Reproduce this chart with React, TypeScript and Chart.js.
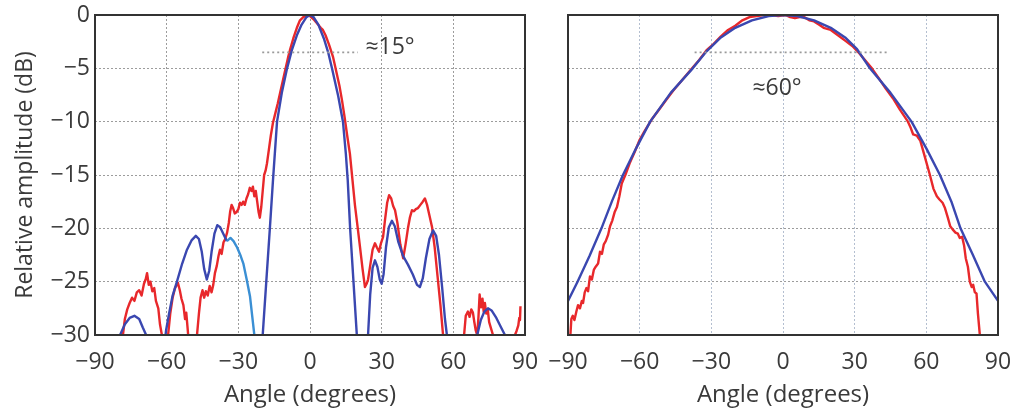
import React, { useEffect, useRef } from "react";
import { Chart, registerables } from "chart.js";
Chart.register(...registerables);

// ---------- data ----------
const xTickValues = [-90, -60, -30, 0, 30, 60, 90];
const yTickValues = [0, -5, -10, -15, -20, -25, -30];

// Left panel: simulated pattern (dark blue); null = gap below -30 dB
const leftSimAngles = [
  -81, -79.5, -77.5, -75.5, -73.5, -71.5, -70, -68.6, -67.5, -64,
  -61, -60.2, -59, -57.5, -55.7, -53.5, -51.5, -49.5, -47.8, -46.5, -45.3, -44.3, -43.2, -42.2, -41.2, -40, -38.8, -37.6, -36.3, -34.8, -28,
  -20.2, -19.8, -18.3, -16.8, -15.5, -13.8, -11.8, -9.6, -7.6, -5.5, -3.5, -1.5, 0, 1.5, 3.5, 5.8, 7.6, 9.2, 11.8, 13.8, 15, 15.8, 16.8, 18.2, 19.6, 20, 22,
  23.8, 24.3, 25.2, 26.2, 27.2, 28.2, 29.2, 30, 30.8, 31.8, 33, 34.3, 35.5, 37, 39, 41, 43, 44.8, 46, 47.2, 48.5, 50, 51.5, 52.8, 54, 55.3, 56.5, 57.3, 57.8, 64,
  69.5, 70, 71.5, 73, 74.5, 76, 78, 80, 81.6, 82.5,
];
const leftSimDb = [
  -31, -30, -29, -28.4, -28.2, -28.5, -29.3, -30, -31, null,
  -31, -29.5, -28, -26.3, -25, -23.3, -22, -21.1, -20.7, -21, -22.2, -23.8, -24.8, -24, -22.2, -20.5, -19.7, -19.9, -20.5, -21.2, null,
  -31, -30, -25, -20, -15.5, -10, -7.3, -5, -3.3, -1.9, -0.9, -0.2, 0, -0.2, -0.9, -2.2, -3.5, -5, -7.6, -10, -13, -15.5, -20, -25, -30, -31, null,
  -31, -30, -26.2, -23.7, -23, -23.6, -24.8, -25.2, -24.3, -21.8, -19.9, -19.3, -19.8, -21.3, -22.6, -23.4, -24.3, -25.3, -25.5, -24.7, -22.8, -21, -20.2, -20.7, -22.5, -25.5, -28.5, -30, -31, null,
  -31, -30, -28.6, -27.8, -27.5, -27.7, -28.4, -29.3, -30, -31,
];

// Left panel: light-blue segment of the simulated pattern
const leftSimAltAngles = [-34.8, -33.3, -32, -30.5, -29, -27.9, -26.5, -25.1, -24.2, -23.3, -23];
const leftSimAltDb = [-21.2, -20.9, -21.2, -21.8, -22.6, -23.3, -24.8, -26.4, -28.2, -30, -31];

// Left panel: measured pattern (red)
const leftMeasAngles = [
  -79, -78.3, -77.5, -76.5, -75.5, -74.5, -73.5, -72.5, -71.5, -70.5, -69.5, -68.8, -68.2, -67.5, -66.8, -66, -65.2, -64.5, -63.5, -62.8, -62, -61.5, -61,
  -60, -59.4, -58.5, -57.5, -56.5, -55.3, -54.5, -53.8, -53, -52.3, -51.8, -51.3, -51, -50.5, -49,
  -48, -47.3, -46.5, -45.8, -45, -44.3, -43.6, -42.8, -42, -41.2, -40.5, -39.8, -39, -38.3, -37.7, -37, -36.2, -35.5, -34.7, -34, -33.4, -32.8, -32.2, -31.5, -30.8, -30,
  -29.3, -28.6, -28, -27.3, -26.6, -25.9, -25.2, -24.5, -23.9, -23.3, -22.7, -22.1, -21.5, -21, -20.4, -19.8, -19.2, -18.6, -18, -17.2, -16.4, -15.5, -14.5,
  -13.5, -12.5, -11.3, -10.2, -9.2, -8.4, -7, -5.5, -4.2, -2.8, -1.3, 0, 1.5, 3, 4.5, 5.4, 6.5, 8, 9.6, 11, 12.3, 13.4, 14.5, 15.5, 16.7, 17.8, 18.8,
  20, 20.9, 22, 23, 23.7, 24.3, 25.2, 26.2, 27.2, 28, 28.9, 29.7, 30.6, 31.4, 32.3, 33.1, 34, 34.8, 35.6, 36.6, 37.8, 39, 40, 41, 41.8, 42.7, 43.5,
  44.3, 45.2, 46.2, 47.2, 48.1, 49, 50, 51.1, 52.2, 53.4, 54.6, 55.7, 56.2, 60,
  64, 64.5, 65.2, 66.1, 66.8, 67.5, 68.2, 68.8, 69.4, 70, 70.5, 71, 71.6, 72.2, 72.7, 73.2, 73.8, 74.4, 75, 75.8, 76.6, 77, 80,
  85.5, 85.8, 86.5, 87.2, 87.6, 87.9, 88.1,
];
const leftMeasDb = [
  -31, -30, -28.5, -27.6, -27, -26.5, -26.8, -26, -25.8, -26.3, -25.2, -24.8, -24.2, -25.3, -25, -25.9, -25.6, -26.8, -27.5, -29, -30, -31, null,
  -31, -30, -28, -26.5, -25.6, -25.1, -25.8, -26.6, -27.2, -28.5, -27.9, -29.2, -30, -31, null,
  -31, -30, -28, -26.5, -25.8, -26.5, -25.9, -26.3, -25.4, -26, -25.3, -24.2, -23.5, -22.6, -22, -22.4, -21.3, -21, -20.4, -19.5, -18.4, -17.8, -18.1, -18.6, -18.5, -18.2,
  -17.6, -17.8, -17.5, -17.8, -17.2, -16.8, -16.2, -16.5, -16.1, -17, -16.5, -17.5, -18.5, -19, -18, -16.5, -15, -14.6, -13.9, -12.6, -11.3, -10.1, -9.2,
  -8.3, -7.3, -6.1, -5, -4, -3.3, -2.2, -1.2, -0.5, -0.2, 0, -0.1, -0.4, -0.8, -1.2, -1.4, -1.9, -2.8, -3.9, -5.3, -6.6, -8, -9.6, -11.2, -13, -15.5, -17.8,
  -20, -21.7, -23.8, -25.5, -25.2, -24.8, -23.5, -22, -21.4, -21.8, -22.2, -21.4, -20.8, -19.2, -17.6, -16.9, -17.2, -17.9, -18.3, -19.5, -21.5, -22.8, -21.5, -20, -19, -18.3, -18.4,
  -18.2, -18.1, -17.8, -17.5, -17.2, -17.8, -18.8, -19.9, -21.8, -24.5, -27.2, -30, -31, null,
  -31, -30, -28.2, -27.8, -28.3, -27.6, -27.9, -28.8, -29.6, -30, -28.4, -26.2, -27.4, -26.6, -27.8, -27, -28, -27.6, -28.8, -29.4, -30, -31, null,
  -31, -30, -29.6, -29.1, -28.4, -28.6, -27.3,
];

// Right panel: simulated pattern (blue)
const rightSimAngles = [
  -90, -86, -81, -76, -71.5, -67, -61.5, -55.6, -47, -37.8, -32, -26, -20, -13, -6, 0,
  6, 13, 20, 26, 31, 36.4, 45, 53.8, 60, 65.7, 70.5, 74.3, 79.5, 84.5, 90,
];
const rightSimDb = [
  -26.8, -25, -22.6, -20, -17.4, -15, -12.5, -10, -7.3, -5, -3.4, -2.1, -1.2, -0.5, -0.1, 0,
  -0.1, -0.5, -1.2, -2.1, -3.2, -5, -7.3, -10, -12.5, -15, -17.5, -20, -22.5, -25, -26.8,
];

// Right panel: measured pattern (red)
const rightMeasAngles = [
  -89.2, -89, -88.6, -88, -87.3, -86.5, -85.8, -85, -84.2, -83.7, -83, -82.3, -81.6, -80.8, -80, -79.2, -78.4, -77.4, -76.6, -75.8,
  -75, -74.2, -73.2, -72.4, -71.5, -70.5, -69.5, -68.5, -67.5, -66, -64, -62, -60, -58, -55, -52, -49, -46, -43, -40,
  -37.7, -35, -32, -29, -26, -23, -20, -17, -14, -11, -8, -5, -2, 1, 3, 5, 7, 9, 11, 13,
  15, 17, 20, 23, 26, 29, 32, 35, 37.2, 40, 43, 46, 49, 52.3, 53.5, 54.5, 56, 57.5, 59, 61.5,
  63, 64.4, 65.5, 66.8, 67.8, 69, 70, 71, 72.2, 73.2, 74, 75, 75.8, 76.5, 77.4, 78.2, 79, 79.6, 80.3, 81, 81.6, 82.4, 82.8,
];
const rightMeasDb = [
  -31, -30, -28.5, -28.2, -28.6, -27.8, -27.2, -27.5, -26.8, -27, -26, -25.6, -25.9, -24.5, -24.8, -23.9, -23.6, -23.3, -22.2, -22.4,
  -21.5, -21.2, -20.6, -19.8, -19.3, -18.5, -18, -17, -15.8, -15, -13.8, -12.8, -11.7, -10.9, -9.8, -8.9, -8, -7.1, -6.3, -5.5,
  -4.9, -4.2, -3.3, -2.7, -2, -1.4, -1, -0.5, -0.2, -0.1, 0, 0, -0.1, 0, -0.2, -0.3, -0.2, -0.2, -0.5, -0.6,
  -0.9, -1.2, -1.4, -1.9, -2.4, -2.9, -3.6, -4.4, -5, -5.9, -6.9, -7.8, -8.9, -10, -10.6, -11.2, -11.3, -11.8, -13, -15,
  -16.3, -17, -17.3, -17.6, -18.1, -19, -19.8, -20.1, -20.4, -20.5, -20.9, -20.8, -21.6, -22.8, -23.6, -25, -25.5, -25.3, -26, -26.1, -28, -30, -31,
];

// Beamwidth markers
const leftWidthAngles = [-20, 20];
const leftWidthDb = [-3.5, -3.5];
const rightWidthAngles = [-37, 44];
const rightWidthDb = [-3.5, -3.5];
const leftLabel = { text: "≈15°", angle: 33.5, db: -3.0 };
const rightLabel = { text: "≈60°", angle: -2.5, db: -6.9 };

// ---------- helpers ----------
const FONT = "'Open Sans', 'Noto Sans', sans-serif";
const TEXT = "#3a3a3a";
const BLUE = "#3a47b0";
const LIGHT_BLUE = "#3a8fd4";
const RED = "#e8282b";

function pts(a: number[], d: (number | null)[]) {
  return a.map((x, i) => ({ x, y: d[i] }));
}
function fmt(v: number) {
  return String(v).replace("-", "\u2212");
}
function lineDs(data: any, color: string, width = 2.4) {
  return {
    data,
    borderColor: color,
    borderWidth: width,
    pointRadius: 0,
    tension: 0,
    spanGaps: false,
    fill: false,
    borderJoinStyle: "round",
  };
}
function markerDs(data: any) {
  return {
    data,
    borderColor: "#9a9a9a",
    borderWidth: 1.6,
    borderDash: [2, 3],
    pointRadius: 0,
    fill: false,
  };
}

function makeFramePlugin(label: { text: string; angle: number; db: number }) {
  return {
    id: "frame",
    afterDatasetsDraw(chart: any) {
      const { ctx, chartArea, scales } = chart;
      ctx.save();
      ctx.fillStyle = TEXT;
      ctx.font = `23px ${FONT}`;
      ctx.textAlign = "center";
      ctx.textBaseline = "middle";
      ctx.fillText(label.text, scales.x.getPixelForValue(label.angle), scales.y.getPixelForValue(label.db));
      ctx.strokeStyle = "#333333";
      ctx.lineWidth = 2;
      ctx.strokeRect(chartArea.left, chartArea.top, chartArea.right - chartArea.left, chartArea.bottom - chartArea.top);
      ctx.restore();
    },
  };
}

function buildOptions(left: boolean, vGridColor: string) {
  return {
    responsive: false,
    animation: false,
    events: [],
    layout: { padding: { top: 15, right: 15, left: 0, bottom: 0 } },
    plugins: { legend: { display: false }, tooltip: { enabled: false } },
    scales: {
      x: {
        type: "linear",
        min: -90,
        max: 90,
        afterBuildTicks: (s: any) => {
          s.ticks = xTickValues.map((v) => ({ value: v }));
        },
        afterFit: (s: any) => {
          s.height = 73;
          s.paddingLeft = 0;
          s.paddingRight = 0;
        },
        ticks: {
          callback: (v: number) => fmt(v),
          color: TEXT,
          font: { family: FONT, size: 23 },
          padding: 14,
          maxRotation: 0,
          autoSkip: false,
        },
        grid: {
          color: vGridColor,
          lineWidth: 1,
          drawTicks: false,
        },
        border: { display: false, dash: [2, 2] },
        title: {
          display: true,
          text: "Angle (degrees)",
          color: TEXT,
          font: { family: FONT, size: 24 },
          padding: { top: 0, bottom: -2 },
        },
      },
      y: {
        type: "linear",
        min: -30,
        max: 0,
        afterBuildTicks: (s: any) => {
          s.ticks = yTickValues.map((v) => ({ value: v }));
        },
        afterFit: (s: any) => {
          s.width = left ? 95 : 28;
          s.paddingTop = 0;
          s.paddingBottom = 0;
        },
        ticks: {
          display: left,
          callback: (v: number) => fmt(v),
          color: TEXT,
          font: { family: FONT, size: 23 },
          padding: 5,
        },
        grid: { color: "#9c9c9c", lineWidth: 1, drawTicks: false },
        border: { display: false, dash: [2, 2] },
        title: {
          display: left,
          text: "Relative amplitude (dB)",
          color: TEXT,
          font: { family: FONT, size: 23 },
          padding: { top: 12, bottom: 0 },
        },
      },
    },
  };
}

function Panel(props: { left: boolean; width: number; x: number }) {
  const ref = useRef<HTMLCanvasElement | null>(null);
  useEffect(() => {
    if (!ref.current) return;
    const datasets: any[] = props.left
      ? [
          markerDs(pts(leftWidthAngles, leftWidthDb)),
          lineDs(pts(leftSimAltAngles, leftSimAltDb), LIGHT_BLUE),
          lineDs(pts(leftSimAngles, leftSimDb), BLUE),
          lineDs(pts(leftMeasAngles, leftMeasDb), RED),
        ]
      : [
          markerDs(pts(rightWidthAngles, rightWidthDb)),
          lineDs(pts(rightSimAngles, rightSimDb), BLUE),
          lineDs(pts(rightMeasAngles, rightMeasDb), RED),
        ];
    const opts: any = buildOptions(props.left, props.left ? "#9c9c9c" : "#b4bfd0");
    const chart = new Chart(ref.current, {
      type: "line",
      data: { datasets },
      options: opts,
      plugins: [makeFramePlugin(props.left ? leftLabel : rightLabel)],
    } as any);
    return () => chart.destroy();
  }, []);
  return (
    <div style={{ position: "absolute", left: props.x, top: 0, width: props.width, height: 408 }}>
      <canvas ref={ref} width={props.width} height={408} style={{ width: props.width, height: 408, display: "block" }} />
    </div>
  );
}

export default function App() {
  return (
    <div style={{ position: "fixed", left: 0, top: 0, width: 1013, height: 408, background: "#ffffff", overflow: "hidden" }}>
      <Panel left={true} width={540} x={0} />
      <Panel left={false} width={473} x={540} />
    </div>
  );
}
